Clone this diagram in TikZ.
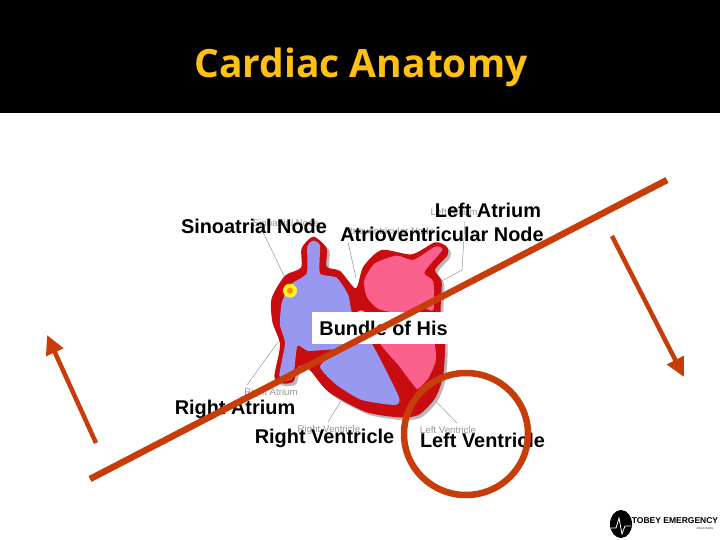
\documentclass[tikz,border=0pt]{standalone}
\usepackage{fontspec}
\setmainfont{Liberation Sans}
\newfontfamily\titlefont{Open Sans}
\usetikzlibrary{arrows.meta}
\definecolor{wall}{RGB}{200,12,16}
\definecolor{rightblood}{RGB}{152,152,240}
\definecolor{leftblood}{RGB}{252,96,140}
\definecolor{penred}{RGB}{200,60,10}
\definecolor{titlegold}{RGB}{255,192,20}
\definecolor{ghost}{RGB}{150,150,150}
\tikzset{
 x=1pt,y=-1pt,
 lbl/.style={font=\fontsize{19.9}{22}\selectfont\bfseries,inner sep=0pt,text=black},
 ghosttext/.style={font=\fontsize{9.7}{11}\selectfont,inner sep=0pt,text=ghost},
 leader/.style={draw=ghost,line width=.5pt},
 pen/.style={draw=penred,line width=6.5pt},
 penarrow/.style={draw=penred,line width=4.5pt,-{Triangle[length=19pt,width=18pt]}},
}
\begin{document}
\begin{tikzpicture}
\useasboundingbox (0,0) rectangle (720,540);
\fill[white] (0,0) rectangle (720,540);
\fill[black] (0,0) rectangle (720,113);
\node[font=\fontsize{39}{44}\selectfont\bfseries\titlefont,text=titlegold,inner sep=0pt] (title) at (361,67) {Cardiac Anatomy};
% ghost labels
\node[ghosttext] (g1) at (286,223) {Sinoatrial Node};
\node[ghosttext] (g2) at (389,231) {Atrioventricular Node};
\node[ghosttext] (g3) at (454,212) {Left Atrium};
\node[ghosttext] (g4) at (271,393) {Right Atrium};
\node[ghosttext] (g5) at (329,430) {Right Ventricle};
\node[ghosttext] (g6) at (448,430) {Left Ventricle};
% leaders
\coordinate (sa0) at (263,232);
\coordinate (sa1) at (285,278);
\draw[leader] (sa0) -- (sa1);
\coordinate (av0) at (348,242);
\coordinate (av1) at (356,278);
\draw[leader] (av0) -- (av1);
\coordinate (la0) at (465,222);
\coordinate (la1) at (462,270);
\coordinate (la2) at (440,282);
\draw[leader] (la0) -- (la1) -- (la2);
\coordinate (ra0) at (247,385);
\coordinate (ra1) at (278,342);
\draw[leader] (ra0) -- (ra1);
\coordinate (rv0) at (328,422);
\coordinate (rv1) at (352,383);
\draw[leader] (rv0) -- (rv1);
\coordinate (lv0) at (457,423);
\coordinate (lv1) at (417,382);
\draw[leader] (lv0) -- (lv1);
% heart, in 3x crop coordinates
\begin{scope}[shift={(265,235)},x=0.3333pt,y=-0.3333pt]
\def\outline{(110,40) (145,5) (185,40) (185,95) (225,108) (272,160) (295,95) (350,45) (440,58) (510,22) (545,35) (548,60) (510,105) (530,140) (527,230) (540,310) (535,420) (510,490) (460,540) (400,547) (300,530) (190,470) (130,400) (100,395) (85,440) (50,445) (28,425) (45,330) (22,260) (20,190) (60,122) (108,98)}
\fill[black!28,shift={(8,8)}] plot[smooth cycle,tension=.45] coordinates {\outline};
\fill[wall] plot[smooth cycle,tension=.45] coordinates {\outline};
% right side chambers
\fill[rightblood] plot[smooth cycle,tension=.35] coordinates {(127,35) (145,17) (165,32) (165,115) (215,128) (250,180) (262,235) (320,325) (365,410) (403,490) (390,510) (290,495) (215,450) (165,395) (210,345) (130,348) (97,333) (85,425) (60,438) (43,420) (60,325) (45,270) (50,205) (75,150) (125,115)};
% left side chambers
\fill[leftblood] plot[smooth cycle,tension=.4] coordinates {(298,135) (330,85) (395,62) (445,75) (510,35) (532,45) (478,112) (505,140) (505,225) (470,218) (410,235) (340,222) (305,185)};
\fill[leftblood] plot[smooth cycle,tension=.2] coordinates {(345,322) (505,322) (512,380) (490,430) (456,462) (400,390)};
% conduction nodes
\fill[yellow!90!white] (75,167) circle (21);
\fill[orange!90!yellow] (75,167) circle (9);
\fill[yellow!90!white] (288,240) circle (14);
\end{scope}
% white label box
\node[lbl,fill=white,minimum width=138pt,minimum height=32pt,text depth=0pt] (his) at (381,328) {\hspace*{5pt}Bundle of His};
% labels
\node[lbl] (sa) at (254,226) {Sinoatrial Node};
\node[lbl] (la) at (488,210) {Left Atrium};
\node[lbl] (av) at (442,234) {Atrioventricular Node};
\node[lbl] (ra) at (235,409) {Right Atrium};
\node[lbl] (rv) at (324.5,438) {Right Ventricle};
\node[lbl] (lv) at (482.5,440) {Left Ventricle};
% annotations
\coordinate (s0) at (90,479);
\coordinate (s1) at (667,180);
\draw[pen] (s0) -- (s1);
\draw[pen] (466,434) ellipse (62 and 61);
\coordinate (a0) at (96,443);
\coordinate (a1) at (47,335);
\draw[penarrow] (a0) -- (a1);
\coordinate (b0) at (612,236);
\coordinate (b1) at (684,377);
\draw[penarrow] (b0) -- (b1);
% logo
\fill[black] (621,524) ellipse (11 and 14);
\draw[white,line width=.8pt] (611,528) -- (616,528) -- (619,518) -- (622,534) -- (625,526) -- (631,526);
\node[font=\fontsize{8.5}{10}\selectfont\bfseries,inner sep=0pt,text=black] (logo) at (675,521) {TOBEY EMERGENCY};
\node[font=\fontsize{3.5}{4}\selectfont,inner sep=0pt,text=black!70] (logos) at (705,528) {Associates};
\end{tikzpicture}
\end{document}
